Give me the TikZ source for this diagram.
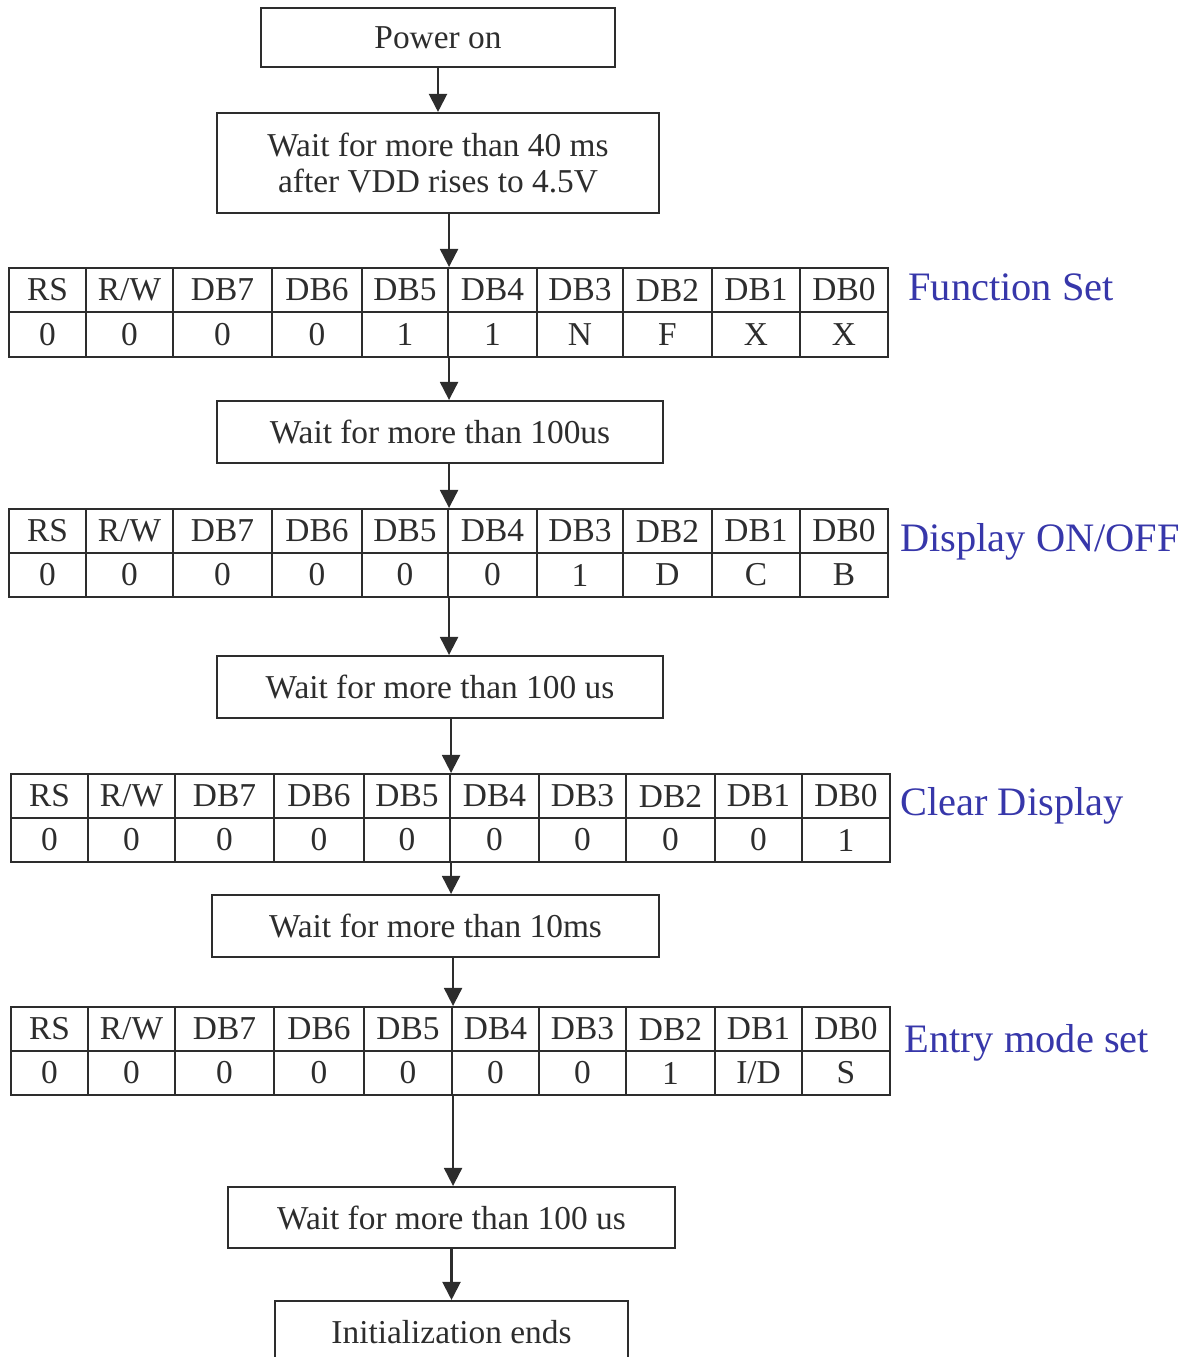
\documentclass[tikz,border=0pt]{standalone}
\usepackage{fontspec}
\setmainfont{Liberation Serif}
\usetikzlibrary{arrows.meta}
\definecolor{lbl}{RGB}{55,55,170}
\definecolor{ink}{RGB}{45,45,45}
\tikzset{
  flowbox/.style={draw=ink, line width=1.2pt, text=ink, font=\fontsize{19}{19}\selectfont, align=center, inner sep=0pt},
  cell/.style={draw=ink, line width=1.2pt, text=ink, font=\fontsize{19}{19}\selectfont, inner sep=0pt},
  lab/.style={text=lbl, font=\fontsize{23}{23}\selectfont, anchor=west, inner sep=0pt},
  arr/.style={draw=ink, line width=1.2pt, -{Triangle[width=0.36cm,length=0.36cm]}},
  rect/.style n args={4}{at={({(#1+#3)/2},{(#2+#4)/2})}, minimum width={(#3-#1)*0.02cm}, minimum height={(#4-#2)*0.02cm}}
}
% #1 name, #2 top, #3 mid, #4 bottom, #5 list x0/x1/header/value
\newcommand\regtable[5]{%
  \foreach \xa/\xb/\hd/\vl [count=\i] in {#5}{
    \node[cell, rect={\xa}{#2}{\xb}{#3}] (#1h\i) {\hd};
    \node[cell, rect={\xa}{#3}{\xb}{#4}] (#1v\i) {\vl};
  }%
}
\begin{document}
\begin{tikzpicture}[x=0.02cm, y=-0.02cm]
\useasboundingbox (0,0) rectangle (1195,1357);

\node[flowbox, rect={261}{8}{615}{67}] (b1) {Power on};
\node[flowbox, rect={217}{113}{659}{213}] (b2) {Wait for more than 40 ms\\[1pt]after VDD rises to 4.5V};

\regtable{ta}{268}{312}{357}{9/86/RS/0, 86/173/R\slash W/0, 173/272/DB7/0, 272/362/DB6/0, 362/448/DB5/1, 448/537/DB4/1, 537/623/DB3/N, 623/712/DB2/F, 712/800/DB1/X, 800/888/DB0/X}
\node[lab] (la) at (908,287) {Function Set};

\node[flowbox, rect={217}{401}{663}{463}] (b3) {Wait for more than 100us};

\regtable{tb}{509}{553}{597}{9/86/RS/0, 86/173/R\slash W/0, 173/272/DB7/0, 272/362/DB6/0, 362/448/DB5/0, 448/537/DB4/0, 537/623/DB3/1, 623/712/DB2/D, 712/800/DB1/C, 800/888/DB0/B}
\node[lab] (lb) at (900,542) {Display ON/OFF};

\node[flowbox, rect={217}{656}{663}{718}] (b4) {Wait for more than 100 us};

\regtable{tc}{774}{818}{862}{11/88/RS/0, 88/175/R\slash W/0, 175/274/DB7/0, 274/364/DB6/0, 364/450/DB5/0, 450/539/DB4/0, 539/626/DB3/0, 626/715/DB2/0, 715/802/DB1/0, 802/890/DB0/1}
\node[lab] (lc) at (900,806) {Clear Display};

\node[flowbox, rect={212}{895}{659}{957}] (b5) {Wait for more than 10ms};

\regtable{td}{1007}{1051}{1095}{11/88/RS/0, 88/175/R\slash W/0, 175/274/DB7/0, 274/364/DB6/0, 364/452/DB5/0, 452/539/DB4/0, 539/626/DB3/0, 626/715/DB2/1, 715/802/DB1/I\slash D, 802/890/DB0/S}
\node[lab] (ld) at (904,1043) {Entry mode set};

\node[flowbox, rect={228}{1187}{675}{1248}] (b6) {Wait for more than 100 us};
\node[flowbox, rect={275}{1301}{628}{1363}] (b7) {Initialization ends};

\draw[arr] (b1.south) -- (b2.north);
\draw[arr] (b2.south -| tah5.north east) -- (tah5.north east);
\draw[arr] (tav5.south east) -- (b3.north -| tav5.south east);
\draw[arr] (b3.south -| tbh5.north east) -- (tbh5.north east);
\draw[arr] (tbv5.south east) -- (b4.north -| tbv5.south east);
\draw[arr] (b4.south -| tch5.north east) -- (tch5.north east);
\draw[arr] (tcv5.south east) -- (b5.north -| tcv5.south east);
\draw[arr] (b5.south -| tdh5.north east) -- (tdh5.north east);
\draw[arr] (tdv5.south east) -- (b6.north -| tdv5.south east);
\draw[arr] (b6.south) -- (b7.north);
\end{tikzpicture}
\end{document}
